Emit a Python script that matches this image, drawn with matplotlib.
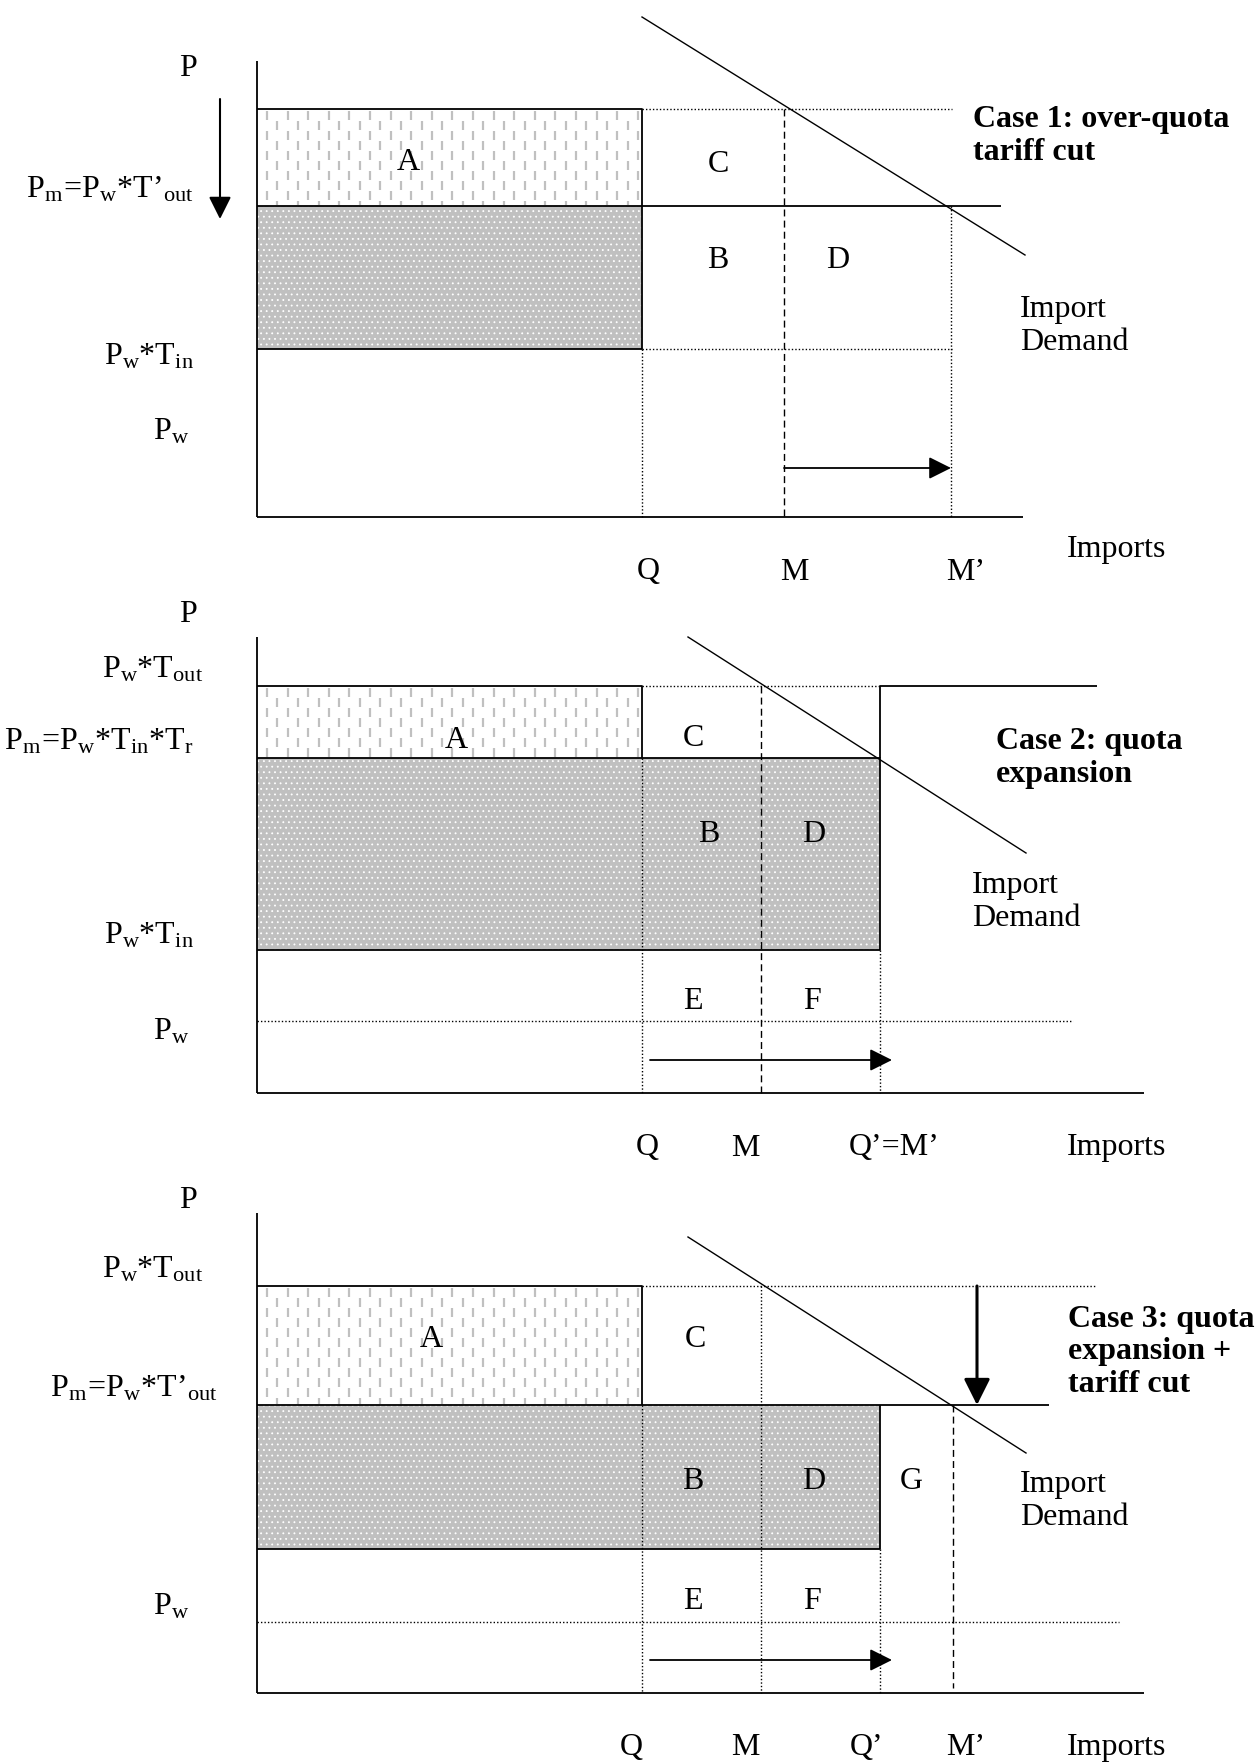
import numpy as np
import matplotlib
matplotlib.use("Agg")
import matplotlib.pyplot as plt
from matplotlib.patches import Rectangle
from matplotlib.collections import LineCollection

plt.rcParams['font.family'] = ['Liberation Serif', 'DejaVu Serif']
plt.rcParams['mathtext.fontset'] = 'custom'
plt.rcParams['mathtext.rm'] = 'Liberation Serif'
plt.rcParams['mathtext.it'] = 'Liberation Serif:italic'
plt.rcParams['mathtext.bf'] = 'Liberation Serif:bold'
plt.rcParams['mathtext.default'] = 'rm'
plt.rcParams['hatch.linewidth'] = 0.6

W, H = 1259, 1765
X0 = 257          # page x of the price axis
FS = 23

# ---- diagram values (units measured from each panel's origin) ----
axis_len_x = [766, 887, 887]
axis_len_y = [456, 456, 480]

q_names = [["Q", "M", "M’"], ["Q", "M", "Q’=M’"], ["Q", "M", "Q’", "M’"]]
q_vals = [[385, 527, 694], [385, 504, 623], [385, 504, 623, 696]]
q_label_x = [[391, 537, 709], [390, 488, 637], [374, 488, 610, 709]]

p_top = [408, 407, 407]      # upper edge of quota rent box (A)
p_mkt = [311, 335, 288]      # domestic market price Pm
p_in = [168, 143, 144]       # Pw*Tin
p_world = [86, 72, 71]       # Pw

demand_x = [[385, 768], [431, 769], [431, 769]]
demand_y = [[500, 262], [456, 240], [456, 240]]

case_titles = ["Case 1: over-quota\ntariff cut",
               "Case 2: quota\nexpansion",
               "Case 3: quota\nexpansion +\ntariff cut"]

fig = plt.figure(figsize=(W / 100, H / 100), dpi=100)


def make_ax(origin_y, band_top, band_bot):
    ax = fig.add_axes([0, 1 - band_bot / H, 1, (band_bot - band_top) / H])
    ax.set_xlim(-X0, W - X0)
    ax.set_ylim(origin_y - band_bot, origin_y - band_top)
    ax.axis('off')
    return ax


def solid(ax, xs, ys, lw=1.3):
    ax.plot(xs, ys, color='k', lw=lw, solid_capstyle='butt', zorder=3)


def dotted(ax, xs, ys):
    ax.plot(xs, ys, color='k', lw=1.0, linestyle=(0, (1, 1.5)), zorder=3)


def dashed(ax, xs, ys):
    ax.plot(xs, ys, color='k', lw=1.0, linestyle=(0, (5, 3)), zorder=3)


def dash_fill(ax, x1, x2, y1, y2):
    segs = []
    for i, x in enumerate(np.arange(x1 + 10, x2 - 3, 10.3)):
        start = y2 - 2 - (i % 2) * 10
        for y in np.arange(start, y1 + 2, -20):
            segs.append([(x, y), (x, max(y - 9, y1 + 1))])
    ax.add_collection(LineCollection(segs, colors='#c0c0c0', linewidths=1.6, zorder=1))


def dot_fill(ax, x1, x2, y1, y2):
    ax.add_patch(Rectangle((x1, y1), x2 - x1, y2 - y1, facecolor='#c0c0c0',
                           edgecolor='none', zorder=1))
    ax.add_patch(Rectangle((x1, y1), x2 - x1, y2 - y1, fill=False, edgecolor='white',
                           hatch='...', linewidth=0, zorder=1.5))


def arrow(ax, x1, y1, x2, y2, lw=1.3, ms=32):
    ax.annotate('', xy=(x2, y2), xytext=(x1, y1),
                arrowprops=dict(arrowstyle='-|>', color='k', lw=lw, mutation_scale=ms,
                                shrinkA=0, shrinkB=0), zorder=4)


def txt(ax, x, y, s, ha='center', **kw):
    ax.text(x, y, s, ha=ha, va='center', fontsize=FS, zorder=5, **kw)


def common(ax, k, p_y):
    solid(ax, [0, 0], [0, axis_len_y[k]])
    solid(ax, [0, axis_len_x[k]], [0, 0])
    ax.plot(demand_x[k], demand_y[k], color='k', lw=1.0, zorder=3)
    for name, xl in zip(q_names[k], q_label_x[k]):
        txt(ax, xl, -54, name)
    txt(ax, 810, -31 if k == 0 else -54, "Imports", ha='left')
    txt(ax, -69, p_y, "P")


# ---------------- Case 1 ----------------
ax = make_ax(518, 0, 590)
k = 0
Q, M, Mp = q_vals[k]
top, pm, tin = p_top[k], p_mkt[k], p_in[k]
dash_fill(ax, 0, Q, pm, top)
dot_fill(ax, 0, Q, tin, pm)
common(ax, k, 450)
solid(ax, [0, Q, Q, 0], [top, top, tin, tin])
solid(ax, [0, 744], [pm, pm])
dotted(ax, [Q, Mp + 1], [top, top])
dotted(ax, [Q, Mp + 1], [tin, tin])
dotted(ax, [Q, Q], [tin, 0])
dotted(ax, [Mp, Mp], [pm, 0])
dashed(ax, [M, M], [top, 0])
arrow(ax, M, 49, Mp, 49, ms=34)
arrow(ax, -37, 418, -37, 298, lw=1.5, ms=34)
txt(ax, -63, 328, r'$P_m\!=\!P_w{*}T’_{out}$', ha='right')
txt(ax, -63, 161, r'$P_w{*}T_{in}$', ha='right')
txt(ax, -68, p_world[k], r'$P_w$', ha='right')
txt(ax, 151, 355, "A")
txt(ax, 461, 354, "C")
txt(ax, 461, 258, "B")
txt(ax, 581, 258, "D")
txt(ax, 716, 382, case_titles[k], ha='left', fontweight='bold', linespacing=1.15)
txt(ax, 763, 192, "Import\nDemand", ha='left', linespacing=1.15)

# ---------------- Case 2 ----------------
ax = make_ax(1094, 590, 1170)
k = 1
Q, M, Qp = q_vals[k]
top, pm, tin, pw = p_top[k], p_mkt[k], p_in[k], p_world[k]
dash_fill(ax, 0, Q, pm, top)
dot_fill(ax, 0, Qp, tin, pm)
common(ax, k, 479)
solid(ax, [0, Q, Q], [top, top, pm])
solid(ax, [0, Qp, Qp, 0], [pm, pm, tin, tin])
solid(ax, [Qp, Qp, 840], [pm, top, top])
dotted(ax, [Q, Qp], [top, top])
dotted(ax, [Q, Q], [pm, 0])
dotted(ax, [Qp, Qp], [tin, 0])
dotted(ax, [0, 816], [pw, pw])
dashed(ax, [M, M], [top, 0])
arrow(ax, 393, 33, 635, 33, ms=34)
txt(ax, -54, 424, r'$P_w{*}T_{out}$', ha='right')
txt(ax, -63, 352, r'$P_m\!=\!P_w{*}T_{in}{*}T_r$', ha='right')
txt(ax, -63, 158, r'$P_w{*}T_{in}$', ha='right')
txt(ax, -68, 62, r'$P_w$', ha='right')
txt(ax, 199, 353, "A")
txt(ax, 436, 356, "C")
txt(ax, 452, 260, "B")
txt(ax, 557, 260, "D")
txt(ax, 436, 92, "E")
txt(ax, 555, 92, "F")
txt(ax, 739, 336, case_titles[k], ha='left', fontweight='bold', linespacing=1.15)
txt(ax, 715, 192, "Import\nDemand", ha='left', linespacing=1.15)

# ---------------- Case 3 ----------------
ax = make_ax(1694, 1170, 1765)
k = 2
Q, M, Qp, Mp = q_vals[k]
top, pm, tin, pw = p_top[k], p_mkt[k], p_in[k], p_world[k]
dash_fill(ax, 0, Q, pm, top)
dot_fill(ax, 0, Qp, tin, pm)
common(ax, k, 493)
solid(ax, [0, Q, Q], [top, top, pm])
solid(ax, [0, 792], [pm, pm])
solid(ax, [Qp, Qp, 0], [pm, tin, tin])
dotted(ax, [Q, 839], [top, top])
dotted(ax, [Q, Q], [pm, 0])
dotted(ax, [M, M], [top, 0])
dotted(ax, [Qp, Qp], [tin, 0])
dotted(ax, [0, 862], [pw, pw])
dashed(ax, [Mp, Mp], [pm, 5])
arrow(ax, 393, 33, 635, 33, ms=34)
arrow(ax, 720, top, 720, pm, lw=2.2, ms=40)
txt(ax, -54, 424, r'$P_w{*}T_{out}$', ha='right')
txt(ax, -39, 305, r'$P_m\!=\!P_w{*}T’_{out}$', ha='right')
txt(ax, -68, 87, r'$P_w$', ha='right')
txt(ax, 174, 354, "A")
txt(ax, 438, 354, "C")
txt(ax, 436, 212, "B")
txt(ax, 557, 212, "D")
txt(ax, 654, 212, "G")
txt(ax, 436, 92, "E")
txt(ax, 555, 92, "F")
txt(ax, 811, 342, case_titles[k], ha='left', fontweight='bold', linespacing=1.15)
txt(ax, 763, 193, "Import\nDemand", ha='left', linespacing=1.15)

fig.savefig("out.png", dpi=100, facecolor='white')
